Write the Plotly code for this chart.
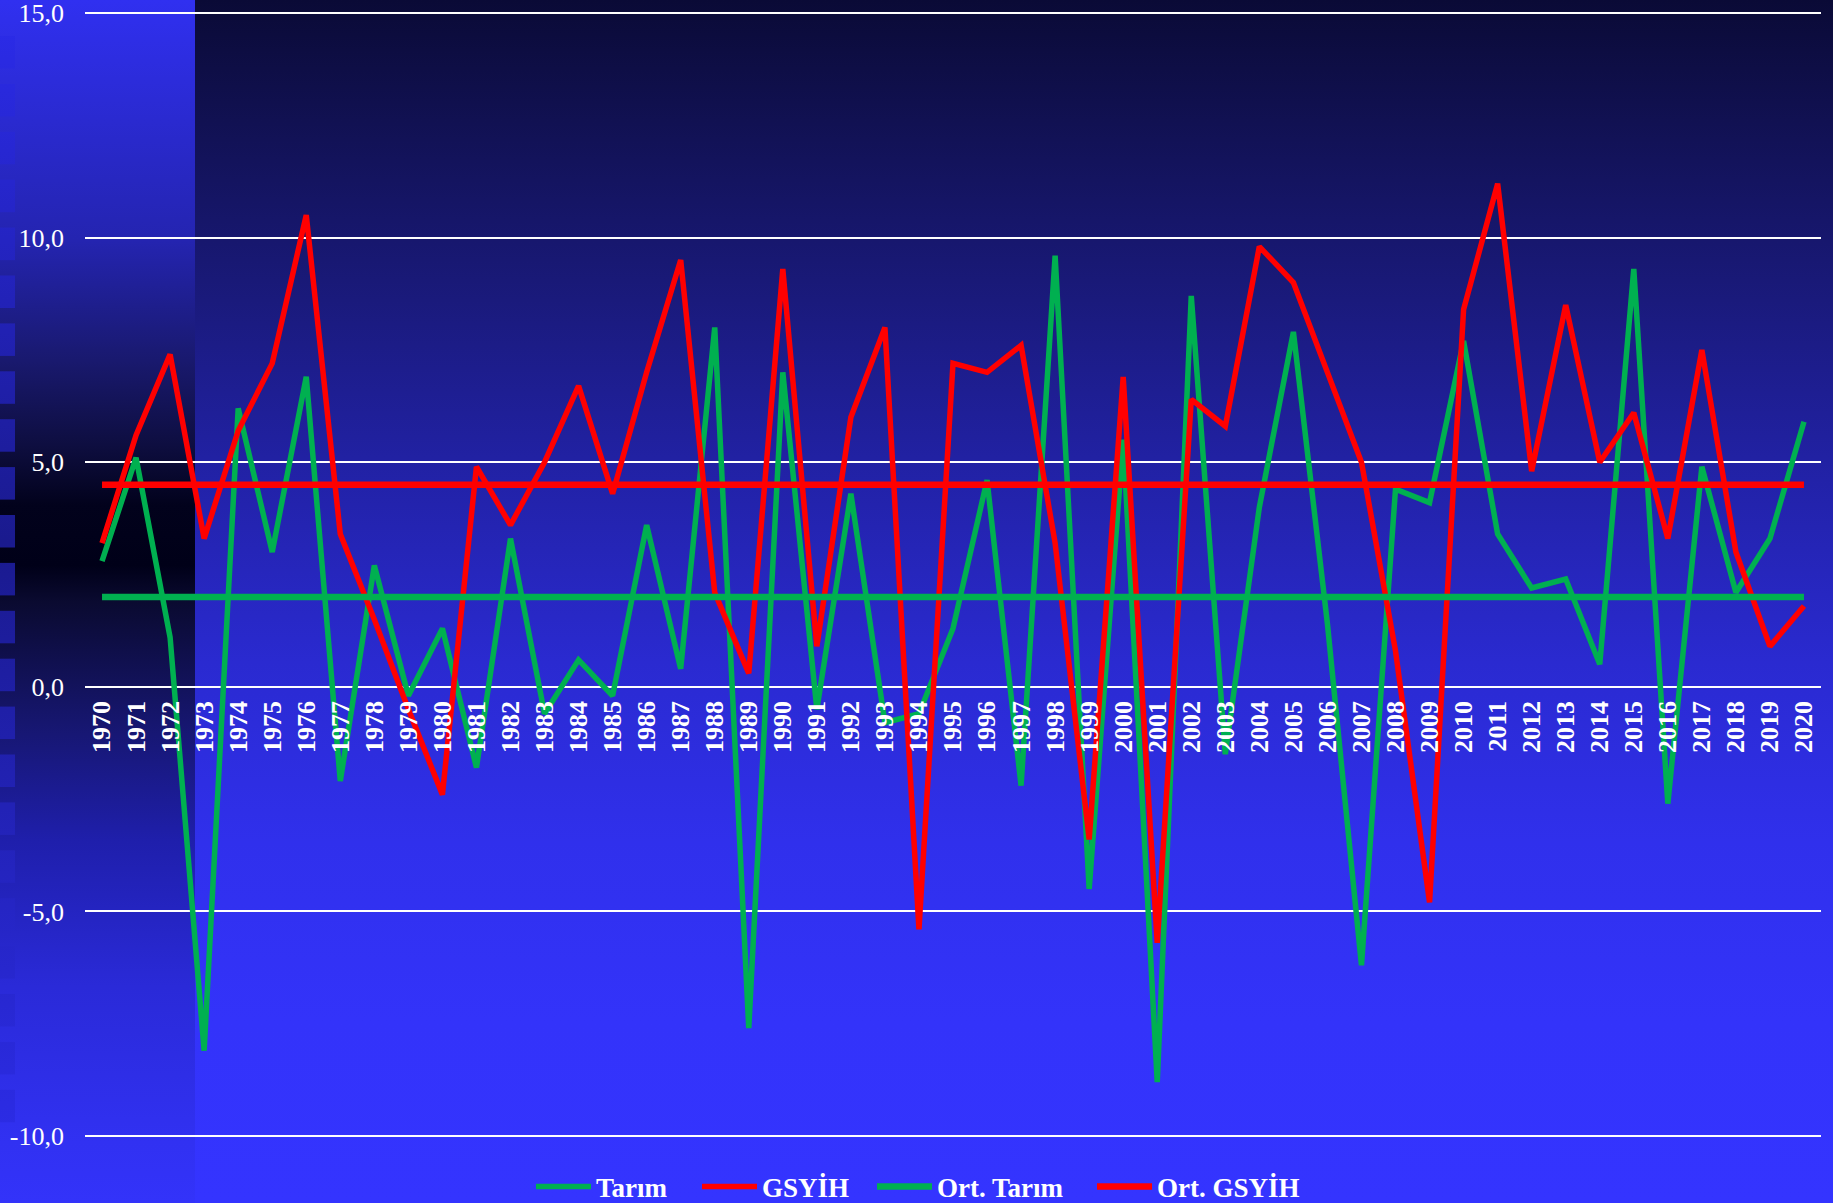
import base64
import plotly.graph_objects as go

# ---------------- data ----------------
years = ["1970", "1971", "1972", "1973", "1974", "1975", "1976", "1977", "1978", "1979",
         "1980", "1981", "1982", "1983", "1984", "1985", "1986", "1987", "1988", "1989",
         "1990", "1991", "1992", "1993", "1994", "1995", "1996", "1997", "1998", "1999",
         "2000", "2001", "2002", "2003", "2004", "2005", "2006", "2007", "2008", "2009",
         "2010", "2011", "2012", "2013", "2014", "2015", "2016", "2017", "2018", "2019",
         "2020"]

tarim = [2.8, 5.1, 1.1, -8.1, 6.2, 3.0, 6.9, -2.1, 2.7, -0.2,
         1.3, -1.8, 3.3, -0.6, 0.6, -0.2, 3.6, 0.4, 8.0, -7.6,
         7.0, -0.5, 4.3, -0.8, -0.6, 1.3, 4.6, -2.2, 9.6, -4.5,
         5.5, -8.8, 8.7, -1.5, 4.0, 7.9, 1.4, -6.2, 4.4, 4.1,
         7.7, 3.4, 2.2, 2.4, 0.5, 9.3, -2.6, 4.9, 2.1, 3.3,
         5.9]

gsyih = [3.2, 5.6, 7.4, 3.3, 5.7, 7.2, 10.5, 3.4, 1.5, -0.5,
         -2.4, 4.9, 3.6, 5.0, 6.7, 4.3, 7.0, 9.5, 2.1, 0.3,
         9.3, 0.9, 6.0, 8.0, -5.4, 7.2, 7.0, 7.6, 3.2, -3.4,
         6.9, -5.7, 6.4, 5.8, 9.8, 9.0, 7.0, 5.0, 0.8, -4.8,
         8.4, 11.2, 4.8, 8.5, 5.0, 6.1, 3.3, 7.5, 3.0, 0.9,
         1.8]

ort_tarim = 2.0
ort_gsyih = 4.5

y_tickvals = [-10, -5, 0, 5, 10, 15]
y_ticktext = ["-10,0", "-5,0", "0,0", "5,0", "10,0", "15,0"]

series_names = ["Tarım", "GSYİH", "Ort. Tarım", "Ort. GSYİH"]

# ---------------- style ----------------
W, H = 1833, 1203
Y_LO, Y_HI = -10.2, 15.2          # small pad so the -10 and 15 gridlines are drawn
ML, MR, MT, MB = 85, 12, 4, 58
PW, PH = W - ML - MR, H - MT - MB
GREEN = "#00B050"
RED = "#FF0000"
FONT = "Liberation Serif, Times New Roman, serif"

main_stops = [(0, "#0a0a36"), (0.1, "#111152"), (0.25, "#1a1a7c"), (0.4, "#2222a8"),
              (0.55, "#2a2ad0"), (0.7, "#3030ec"), (0.85, "#3333fa"), (1, "#3434ff")]
strip_stops = [(0, "#3030f0"), (0.2, "#2424b0"), (0.3, "#19196e"), (0.37, "#0e0e40"),
               (0.42, "#02021c"), (0.47, "#000018"), (0.5, "#0a0a30"), (0.6, "#16166e"),
               (0.7, "#1f1fac"), (0.82, "#2a2ad8"), (0.95, "#3131f2"), (1, "#3333fa")]
sq_stops = [(0, "#2c2cec"), (0.45, "#1a1a8e"), (1, "#2e2ef0")]


def grad(gid, stops, user=False):
    attrs = f'id="{gid}" x1="0" y1="0" x2="0" y2="1"'
    if user:
        attrs = f'id="{gid}" gradientUnits="userSpaceOnUse" x1="0" y1="0" x2="0" y2="{H}"'
    s = "".join(f'<stop offset="{o}" stop-color="{c}"/>' for o, c in stops)
    return f"<linearGradient {attrs}>{s}</linearGradient>"


squares = "".join(
    f'<rect x="0" y="{36 + 47.9 * i:.1f}" width="15" height="32.5" fill="url(#q)"/>'
    for i in range(23)
)
svg = (
    f'<svg xmlns="http://www.w3.org/2000/svg" width="{W}" height="{H}" '
    f'viewBox="0 0 {W} {H}" preserveAspectRatio="none"><defs>'
    + grad("m", main_stops) + grad("s", strip_stops) + grad("q", sq_stops, True)
    + f'</defs><rect x="0" y="0" width="{W}" height="{H}" fill="url(#m)"/>'
    f'<rect x="0" y="0" width="195" height="{H}" fill="url(#s)"/>'
    + squares + "</svg>"
)
bg_src = "data:image/svg+xml;base64," + base64.b64encode(svg.encode()).decode()

series_vals = [tarim, gsyih, [ort_tarim] * len(years), [ort_gsyih] * len(years)]
series_colors = [GREEN, RED, GREEN, RED]
series_widths = [5.5, 5.5, 6.5, 6.5]
legend_ids = ["legend", "legend2", "legend3", "legend4"]
legend_x_px = [531, 697, 872, 1092]  # left edge of each legend entry (pixels)

fig = go.Figure()
for name, vals, col, wd, lid in zip(series_names, series_vals, series_colors,
                                    series_widths, legend_ids):
    fig.add_trace(go.Scatter(x=years, y=vals, name=name, mode="lines",
                             line=dict(color=col, width=wd), legend=lid))

legend_y = (MT + PH - 1187) / PH
leg_common = dict(orientation="h", xanchor="left", y=legend_y, yanchor="middle",
                  font=dict(family=FONT, size=27, color="white", weight="bold"),
                  bgcolor="rgba(0,0,0,0)", itemwidth=55)
legends = {lid: dict(leg_common, x=(px - ML) / PW) for lid, px in zip(legend_ids, legend_x_px)}

fig.update_layout(
    width=W, height=H,
    margin=dict(l=ML, r=MR, t=MT, b=MB, autoexpand=False),
    paper_bgcolor="#1c1c90",
    plot_bgcolor="rgba(0,0,0,0)",
    font=dict(family=FONT, color="white"),
    showlegend=True,
    images=[dict(source=bg_src, xref="paper", yref="paper",
                 x=-ML / PW, y=1 + MT / PH, sizex=W / PW, sizey=H / PH,
                 xanchor="left", yanchor="top", sizing="stretch", layer="below")],
    xaxis=dict(type="category", range=[-0.5, len(years) - 0.5], showgrid=False,
               zeroline=False, showline=False, anchor="free",
               position=(0 - Y_LO) / (Y_HI - Y_LO),
               tickangle=-90, ticks="", ticklabelstandoff=8, ticklabeloverflow="allow",
               tickfont=dict(family=FONT, size=26, color="white", weight="bold")),
    yaxis=dict(range=[Y_LO, Y_HI], tickvals=y_tickvals, ticktext=y_ticktext,
               showgrid=True, gridcolor="white", gridwidth=2, zeroline=False,
               showline=False, ticks="", ticklabelstandoff=20, ticklabeloverflow="allow",
               tickfont=dict(family=FONT, size=26, color="white")),
    **legends,
)

fig.write_html("out.html", config={"displayModeBar": False},
               post_script="document.body.style.margin='0';"
               "document.body.style.overflow='hidden';")
